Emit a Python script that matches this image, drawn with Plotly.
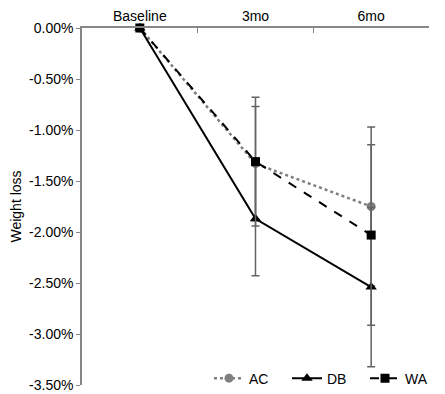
import plotly.graph_objects as go

categories = ["Baseline", "3mo", "6mo"]
ac_vals = [0.0, -1.33, -1.75]
db_vals = [0.0, -1.87, -2.54]
wa_vals = [0.0, -1.31, -2.03]
ac_err = [0.0, 0.56, 0.78]
db_err = [0.0, 0.56, 0.78]
wa_err = [0.0, 0.63, 0.885]
y_ticks = [0.0, -0.5, -1.0, -1.5, -2.0, -2.5, -3.0, -3.5]
y_tick_text = [f"{v:.2f}%" for v in y_ticks]

FONT = "Liberation Sans, Arial, sans-serif"
ERR = "#636363"

fig = go.Figure()
series = [
    ("AC", ac_vals, ac_err, dict(color="#7f7f7f", width=2.5, dash="dot"),
     dict(symbol="circle", size=9, color="#7f7f7f")),
    ("DB", db_vals, db_err, dict(color="black", width=2, dash="solid"),
     dict(symbol="triangle-up", size=10, color="black")),
    ("WA", wa_vals, wa_err, dict(color="black", width=2, dash="dash"),
     dict(symbol="square", size=9, color="black")),
]
for name, vals, err, line, marker in series:
    fig.add_trace(go.Scatter(
        x=categories, y=vals, name=name, mode="lines+markers",
        line=line, marker=marker, cliponaxis=False,
        error_y=dict(type="data", array=err, visible=True, color=ERR,
                     thickness=1.5, width=4),
    ))

fig.update_layout(
    width=437, height=386,
    margin=dict(l=74, r=16, t=20, b=9, autoexpand=False),
    paper_bgcolor="white", plot_bgcolor="white",
    font=dict(family=FONT, size=14, color="black"),
    showlegend=True,
    legend=dict(orientation="h", x=0.366, xanchor="left", y=0.018, yanchor="middle",
                bgcolor="rgba(0,0,0,0)", font=dict(size=14),
                entrywidth=33, entrywidthmode="pixels",
                tracegroupgap=0),
    xaxis=dict(side="top", type="category", range=[-0.5, 2.5], automargin=False,
               showline=True, linecolor="#868686", linewidth=1.5,
               ticks="inside", ticklen=5, tickcolor="#868686", tickson="boundaries",
               showgrid=False, zeroline=False, tickfont=dict(size=14)),
    yaxis=dict(range=[-3.5, 0], tickvals=y_ticks, ticktext=y_tick_text, automargin=False,
               showline=True, linecolor="#868686", linewidth=1.5,
               ticks="outside", ticklen=4, tickcolor="#868686",
               showgrid=False, zeroline=False, tickfont=dict(size=14),
               title=dict(text="Weight loss", font=dict(size=14), standoff=10)),
)

fig.write_html("out.html")
